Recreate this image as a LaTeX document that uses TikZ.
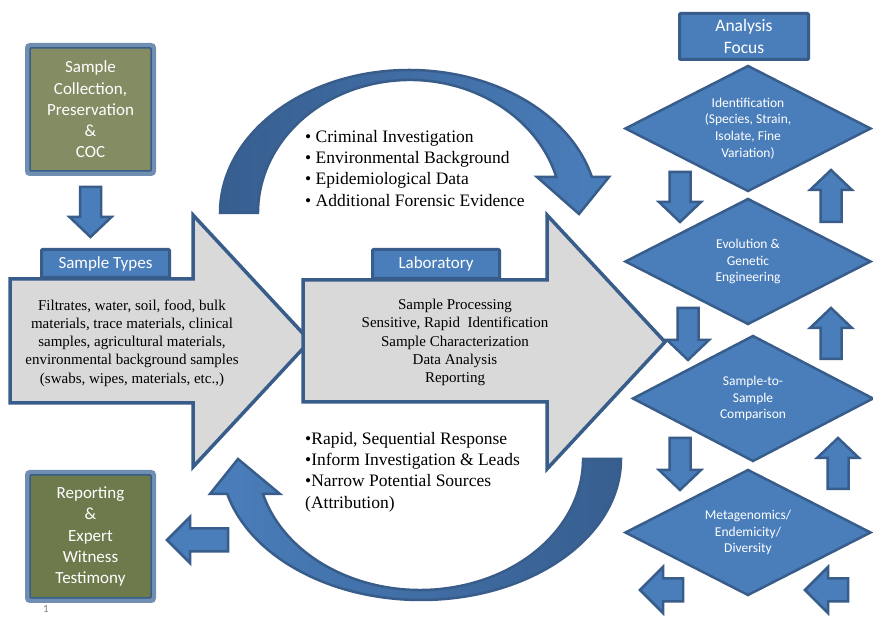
\documentclass[tikz,border=0pt]{standalone}
\usepackage{fontspec}
\setmainfont{Liberation Serif}
\newfontfamily\calib{Carlito}
\definecolor{focusblue}{RGB}{74,126,187}
\definecolor{focusdark}{RGB}{56,93,138}
\definecolor{arcdark}{RGB}{55,94,143}
\definecolor{panelgray}{RGB}{217,217,217}
\definecolor{collectgreen}{RGB}{132,140,100}
\definecolor{reportgreen}{RGB}{108,122,76}
\definecolor{framelight}{RGB}{112,142,178}

\begin{document}
\begin{tikzpicture}[x=1pt,y=1pt,
  bigarrow/.style={fill=panelgray,draw=focusdark,line width=3.5pt,line join=miter},
  curvearrow/.style={draw=focusdark,line width=2.5pt,line join=miter},
  smallarrow/.style={fill=focusblue,draw=focusdark,line width=2.5pt,line join=miter},
  focusshape/.style={fill=focusblue,draw=focusdark,line width=2.5pt,line join=miter},
  tab/.style={fill=focusblue,draw=focusdark,line width=3pt,rounded corners=1pt,inner sep=0pt,
    text=white,font=\calib\fontsize{17}{21}\selectfont},
  greenbox/.style={draw=framelight,line width=5pt,rounded corners=2.5pt,outer sep=0pt,
    minimum width=126pt,minimum height=128pt,inner sep=0pt,align=center,text=white,
    font=\calib\fontsize{17}{21.3}\selectfont},
  focustext/.style={inner sep=0pt,align=center,text=white,font=\calib\fontsize{13.5}{16.7}\selectfont},
  bodytext/.style={align=center,font=\fontsize{15}{18.2}\selectfont},
  listtext/.style={align=left,anchor=north west,inner sep=0pt,font=\fontsize{17.5}{21.3}\selectfont}]

\def\arrdown#1#2#3{\draw[smallarrow] (#1,#2) -- ++(21,20) -- ++(-10.5,0) -- ++(0,#3-20)
  -- ++(-21,0) -- ++(0,20-#3) -- ++(-10.5,0) -- cycle;}
\def\arrup#1#2#3{\draw[smallarrow] (#1,#2) -- ++(21,-20) -- ++(-10.5,0) -- ++(0,20-#3)
  -- ++(-21,0) -- ++(0,#3-20) -- ++(-10.5,0) -- cycle;}
\def\arrleft#1#2#3{\draw[smallarrow] (#1,#2) -- ++(23,23) -- ++(0,-11.5) -- ++(#3-23,0)
  -- ++(0,-23) -- ++(23-#3,0) -- ++(0,-11.5) -- cycle;}
\def\focusdiamond#1#2#3{\draw[focusshape] (#1-#3,#2) -- (#1,#2+62.5) -- (#1+#3,#2) -- (#1,#2-62.5) -- cycle;}

\useasboundingbox[fill=white] (0,0) rectangle (873,618);

% curved arrows round the laboratory
\draw[curvearrow,left color=arcdark,right color=focusblue] (220,405)
  arc[start angle=180,end angle=14.58,x radius=189,y radius=143]
  -- (609,441) -- (579,404) -- (537,441) -- (556.3,441)
  arc[start angle=15.70,end angle=180,x radius=152,y radius=133] -- cycle;
\draw[curvearrow,left color=focusblue,right color=arcdark] (621,159)
  arc[start angle=0,end angle=-165.63,x radius=200,y radius=141]
  -- (210,124) -- (238,159) -- (280,124) -- (263,124)
  arc[start angle=-164.5,end angle=0,x radius=163,y radius=131] -- cycle;

% big arrows
\draw[bigarrow] (10,339) -- (193,339) -- (193,403) -- (310,277) -- (193,151) -- (193,215) -- (10,215) -- cycle;
\draw[bigarrow] (303,338) -- (547,338) -- (547,403) -- (665,276) -- (547,149) -- (547,216) -- (303,216) -- cycle;
\node[tab,minimum width=128pt,minimum height=28pt] (types) at (105.5,354.5) {Sample Types};
\node[tab,minimum width=127pt,minimum height=29pt] (lab) at (436,354) {Laboratory};

\node[bodytext] (typestext) at (132,275) {Filtrates, water, soil, food, bulk\\materials, trace materials, clinical\\samples, agricultural materials,\\environmental background samples\\(swabs, wipes, materials, etc.,)};
\node[bodytext] (labtext) at (455,275.5) {Sample Processing\\Sensitive, Rapid\ \ Identification\\Sample Characterization\\Data Analysis\\Reporting};

\node[listtext] (uses) at (305,488) {\textbullet\ Criminal Investigation\\\textbullet\ Environmental Background\\\textbullet\ Epidemiological Data\\\textbullet\ Additional Forensic Evidence};
\node[listtext] (results) at (305,186) {\textbullet Rapid, Sequential Response\\\textbullet Inform Investigation \& Leads\\\textbullet Narrow Potential Sources\\(Attribution)};

% sample boxes
\node[greenbox,fill=collectgreen] (collect) at (90.5,508.5) {Sample\\Collection,\\Preservation\\\&\\COC};
\draw[focusdark,line width=1.5pt,rounded corners=1pt] ([shift={(2.5,2.5)}]collect.south west) rectangle ([shift={(-2.5,-2.5)}]collect.north east);
\node[greenbox,fill=reportgreen] (report) at (90.5,81.5) {Reporting\\\&\\Expert\\Witness\\Testimony};
\draw[focusdark,line width=1.5pt,rounded corners=1pt] ([shift={(2.5,2.5)}]report.south west) rectangle ([shift={(-2.5,-2.5)}]report.north east);
\arrdown{90.5}{381}{50}
\arrleft{167}{78}{61}

% analysis focus column
\node[tab,minimum width=129pt,minimum height=46pt,align=center,font=\calib\fontsize{17.5}{21.7}\selectfont] (focushead) at (744,581.5) {Analysis\\Focus};
\focusdiamond{748}{489.5}{122.5}
\focusdiamond{748}{356.5}{122.5}
\focusdiamond{753}{219.5}{120}
\focusdiamond{748}{85.5}{122.5}
\node[focustext] (ident) at (748,489.5) {Identification\\(Species, Strain,\\Isolate, Fine\\Variation)};
\node[focustext] (evol) at (748,356.5) {Evolution \&\\Genetic\\Engineering};
\node[focustext] (compare) at (753,219.5) {Sample-to-\\Sample\\Comparison};
\node[focustext] (meta) at (748,85.5) {Metagenomics/\\Endemicity/\\Diversity};

\arrdown{680}{396}{50}
\arrdown{688}{258}{52}
\arrdown{680}{128}{52}
\arrup{831}{448}{52}
\arrup{831}{310}{51}
\arrup{838}{180}{51}
\arrleft{640}{28}{43}
\arrleft{805}{28}{43}

\node[text=gray,font=\calib\fontsize{11}{13}\selectfont] (pagenum) at (46,9) {1};
\end{tikzpicture}
\end{document}
